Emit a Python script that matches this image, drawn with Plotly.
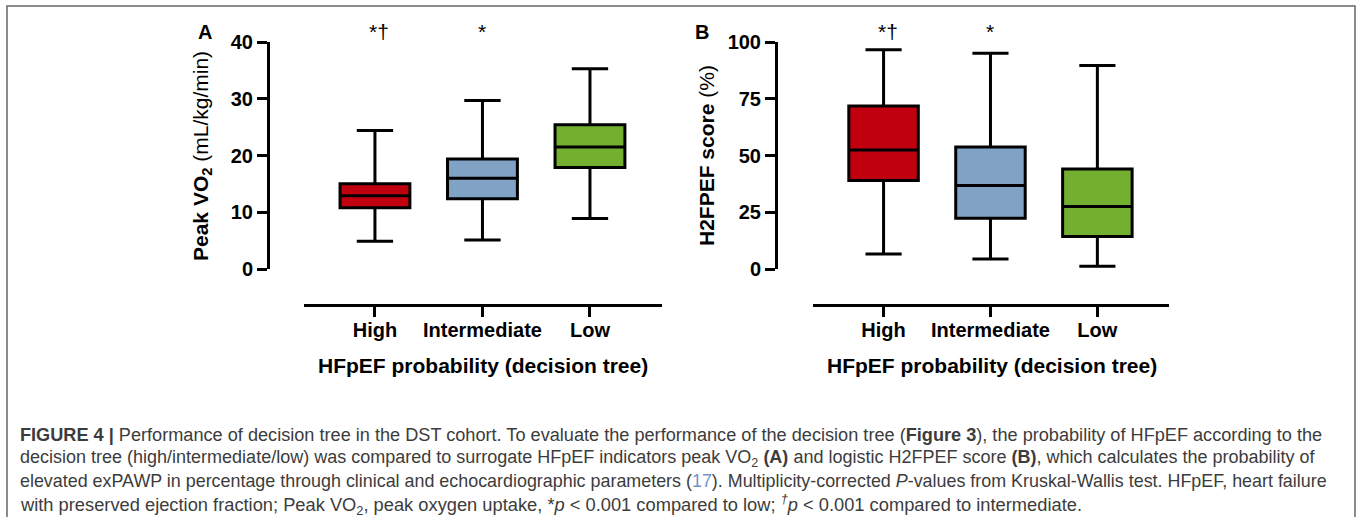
import plotly.graph_objects as go

W, H = 1357, 517

def px(x):
    return x / W

def py(y):
    return 1 - y / H

categories = ["High", "Intermediate", "Low"]
colors = ["#C0000E", "#7FA2C5", "#74B02F"]

# Panel A: Peak VO2 (mL/kg/min)
a_lower = [4.9, 5.1, 8.9]
a_q1 = [10.8, 12.4, 17.9]
a_median = [12.9, 16.0, 21.5]
a_q3 = [15.0, 19.4, 25.4]
a_upper = [24.4, 29.7, 35.3]

# Panel B: H2FPEF score (%)
b_lower = [6.6, 4.4, 1.2]
b_q1 = [39.0, 22.4, 14.3]
b_median = [52.4, 36.8, 27.5]
b_q3 = [71.8, 53.7, 44.0]
b_upper = [96.6, 95.0, 89.7]

a_ticks = [0, 10, 20, 30, 40]
b_ticks = [0, 25, 50, 75, 100]

sig_marks = ["*†", "*", ""]

fig = go.Figure()

def add_boxes(xa, ya, lower, q1, med, q3, upper):
    for i, cat in enumerate(categories):
        fig.add_trace(go.Box(
            x=[cat], q1=[q1[i]], median=[med[i]], q3=[q3[i]],
            lowerfence=[lower[i]], upperfence=[upper[i]],
            fillcolor=colors[i], line=dict(color="black", width=3),
            width=0.65, whiskerwidth=0.52, boxpoints=False,
            xaxis=xa, yaxis=ya, showlegend=False, hoverinfo="skip"))

add_boxes("x", "y", a_lower, a_q1, a_median, a_q3, a_upper)
add_boxes("x2", "y2", b_lower, b_q1, b_median, b_q3, b_upper)

FONT = "Arial, Liberation Sans, sans-serif"

def xaxis_cfg(x0, x1):
    return dict(domain=[px(x0), px(x1)], anchor="free", position=py(305),
                type="category", categoryorder="array", categoryarray=categories,
                range=[-0.66, 2.67], showline=True, linewidth=3, linecolor="black",
                ticks="outside", ticklen=10, tickwidth=3, tickcolor="black",
                ticklabelstandoff=-4,
                tickfont=dict(family=FONT, size=20, color="black", weight="bold"),
                showgrid=False, zeroline=False, fixedrange=True, automargin=False)

def yaxis_cfg(xpos, rng, ticks):
    return dict(domain=[py(269), py(42)], anchor="free", position=px(xpos),
                range=rng, tickvals=ticks, showline=True, linewidth=3, linecolor="black",
                ticks="outside", ticklen=10, tickwidth=3, tickcolor="black",
                tickfont=dict(family=FONT, size=20, color="black", weight="bold"),
                showgrid=False, zeroline=False, fixedrange=True, automargin=False)

def ann(x, y, text, size, **kw):
    d = dict(x=px(x), y=py(y), xref="paper", yref="paper", text=text, showarrow=False,
             xanchor="center", yanchor="middle",
             font=dict(family=FONT, size=size, color="black"))
    d.update(kw)
    return d

annotations = []
# axis titles
annotations.append(ann(202, 156, "<b>Peak VO<sub>2</sub></b> (mL/kg/min)", 21, textangle=-90))
annotations.append(ann(706, 156, "<b>H2FPEF score</b> (%)", 21, textangle=-90))
for cx in (483, 992):
    annotations.append(ann(cx, 365, "<b>HFpEF probability (decision tree)</b>", 21))
# panel letters
annotations.append(ann(205, 32, "<b>A</b>", 20))
annotations.append(ann(702, 32, "<b>B</b>", 20))
# significance marks
for xr in ("x", "x2"):
    for cat, mark in zip(categories, sig_marks):
        if mark:
            annotations.append(dict(x=cat, y=py(31), xref=xr, yref="paper", text=mark,
                                    showarrow=False, xanchor="center", yanchor="middle",
                                    xshift=4 if len(mark) > 1 else 0,
                                    font=dict(family=FONT, size=21, color="black")))

# caption
ref_col = "#6f95c8"
caption_lines = [
    "<b>FIGURE 4 |</b> Performance of decision tree in the DST cohort. To evaluate the performance of the decision tree (<b>Figure 3</b>), the probability of HFpEF according to the",
    "decision tree (high/intermediate/low) was compared to surrogate HFpEF indicators peak VO<sub>2</sub> <b>(A)</b> and logistic H2FPEF score <b>(B)</b>, which calculates the probability of",
    "elevated exPAWP in percentage through clinical and echocardiographic parameters (<span style='color:" + ref_col + "'>17</span>). Multiplicity-corrected <i>P</i>-values from Kruskal-Wallis test. HFpEF, heart failure",
    "with preserved ejection fraction; Peak VO<sub>2</sub>, peak oxygen uptake, *<i>p</i> &lt; 0.001 compared to low; <sup><i>†</i></sup><i>p</i> &lt; 0.001 compared to intermediate.",
]
cap_y = [435, 458, 481, 504]
cap_size = [18.15, 18.0, 17.9, 18.3]
for line, yy, sz in zip(caption_lines, cap_y, cap_size):
    annotations.append(dict(x=px(18), y=py(yy), xref="paper", yref="paper", text=line,
                            xanchor="left", yanchor="middle", showarrow=False,
                            font=dict(family=FONT, size=sz, color="#3c3c3c")))

fig.update_layout(
    width=W, height=H, margin=dict(l=0, r=0, t=0, b=0),
    paper_bgcolor="white", plot_bgcolor="white", boxmode="overlay",
    xaxis=xaxis_cfg(304, 662), yaxis=yaxis_cfg(268, [0, 40], a_ticks),
    xaxis2=xaxis_cfg(813, 1169), yaxis2=yaxis_cfg(776, [0, 100], b_ticks),
    annotations=annotations,
    shapes=[dict(type="rect", xref="paper", yref="paper", x0=px(7), x1=px(1355),
                 y0=py(530), y1=py(6), line=dict(color="#666666", width=1.5))],
)

fig.write_html("out.html", config={"displayModeBar": False},
               post_script="document.body.style.margin='0px';")
